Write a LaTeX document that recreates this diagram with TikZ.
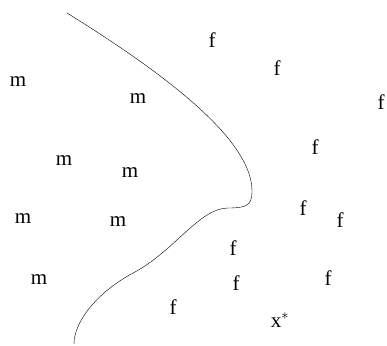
\documentclass[tikz,border=0pt]{standalone}
\usepackage{fontspec}
\setmainfont{Liberation Serif}
\begin{document}
\begin{tikzpicture}[x=1pt,y=-1pt]
    \tikzset{
        sample/.style={inner sep=0pt, font=\fontsize{21}{21}\selectfont},
        border/.style={thin, line cap=round}
    }
    \useasboundingbox (0,0) rectangle (387,345);
    \foreach \n/\x/\y in {%
        m1/18/82,m2/138/99,m3/64/161,m4/130/173,m5/23/219,m6/118/222,m7/39/280%
    }
    {
        \draw node[sample] (\n) at (\x,\y) {m};
    }
    \foreach \n/\x/\y in {%
        f1/212/40,f2/277/68,f3/381/102,f4/315/147,f5/303/208,f6/340/220,%
        f7/233/248,f8/236/283,f9/328/278,f10/173/307%
    }
    {
        \draw node[sample] (\n) at (\x,\y) {f};
    }
    \draw node[sample] (xstar) at (280,320) {x$^*$};

    \draw[border] (67,13) .. controls (175,80) and (253,143) .. (252,192)
        .. controls (252,206) and (245,208) .. (228,208)
        .. controls (200,208) and (175,250) .. (135,272)
        .. controls (100,290) and (74,320) .. (74,344);
\end{tikzpicture}
\end{document}
